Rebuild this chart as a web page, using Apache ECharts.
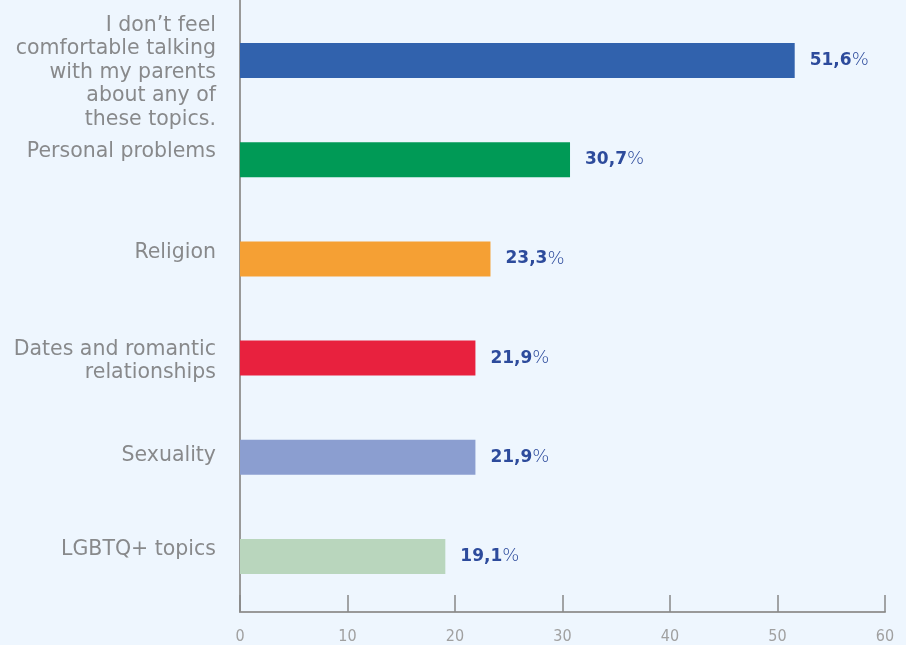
<!DOCTYPE html>
<html>
<head>
<meta charset="utf-8">
<script src="https://cdn.jsdelivr.net/npm/echarts@6/dist/echarts.min.js"></script>
<style>
  html, body { margin: 0; padding: 0; background: #eef6fe; }
  #chart { width: 906px; height: 645px; }
</style>
</head>
<body>
<div id="chart"></div>
<script>
// Topics, top to bottom
const categories = [
  'I don\u2019t feel\ncomfortable talking\nwith my parents\nabout any of\nthese topics.',
  'Personal problems',
  'Religion',
  'Dates and romantic\nrelationships',
  'Sexuality',
  'LGBTQ+ topics'
];
// Share of respondents, %
const values = [51.6, 30.7, 23.3, 21.9, 21.9, 19.1];
const barColors = ['#3162ad', '#009a56', '#f5a034', '#e8213e', '#8b9ed0', '#b9d6bd'];
// Vertical nudges for the category labels (px)
const labelShift = [12, -8, -6, 3, -2, -7];
const xTicks = [0, 10, 20, 30, 40, 50, 60];

const labelFont = '"DejaVu Sans", sans-serif';

const chart = echarts.init(document.getElementById('chart'), null, { renderer: 'canvas' });

chart.setOption({
  backgroundColor: '#eef6fe',
  animation: false,
  grid: [
    // axis frame
    { left: 240, right: 21, top: 0, bottom: 33, outerBoundsMode: 'none' },
    // bar area
    { left: 240, right: 21, top: 11, bottom: 39, outerBoundsMode: 'none' }
  ],
  xAxis: [
    {
      gridIndex: 0, type: 'value', min: xTicks[0], max: xTicks[xTicks.length - 1], interval: 10,
      axisLine: { show: true, lineStyle: { color: '#999', width: 2 } },
      axisTick: { show: true, inside: true, length: 17, lineStyle: { color: '#888', width: 1.5 } },
      axisLabel: {
        color: '#a0a0a0', fontSize: 16,
        fontFamily: '"DejaVu Sans Condensed", "Liberation Sans Narrow", sans-serif',
        fontWeight: 200,
        margin: 17
      },
      splitLine: { show: false }
    },
    { gridIndex: 1, type: 'value', min: 0, max: 60, show: false }
  ],
  yAxis: [
    {
      gridIndex: 0, type: 'value', min: 0, max: 1,
      axisLine: { show: true, lineStyle: { color: '#999', width: 2 } },
      axisTick: { show: false }, axisLabel: { show: false }, splitLine: { show: false }
    },
    {
      gridIndex: 1, type: 'category', inverse: true, data: categories,
      axisLine: { show: false }, axisTick: { show: false }, axisLabel: { show: false }
    }
  ],
  series: [
    {
      type: 'bar',
      xAxisIndex: 1, yAxisIndex: 1,
      barWidth: 35,
      data: values.map((v, i) => ({ value: v, itemStyle: { color: barColors[i] } })),
      label: {
        show: true, position: 'right', distance: 15,
        formatter: p => '{b|' + p.value.toFixed(1).replace('.', ',') + '}{p|%}',
        rich: {
          b: { fontFamily: labelFont, fontWeight: 'bold', fontSize: 17, color: '#2d4b9c' },
          p: { fontFamily: labelFont, fontWeight: 200, fontSize: 18, color: '#2d4b9c' }
        }
      }
    },
    {
      // category names, placed left of the axis
      type: 'scatter',
      xAxisIndex: 1, yAxisIndex: 1,
      symbolSize: 0,
      silent: true,
      data: categories.map((c, i) => ({
        value: [0, i],
        label: { offset: [0, labelShift[i]] }
      })),
      label: {
        show: true, position: 'left', distance: 24,
        formatter: p => categories[p.dataIndex],
        color: '#6e6e6e', fontSize: 20.5, fontFamily: labelFont, fontWeight: 'normal',
        lineHeight: 23.5, align: 'right'
      }
    }
  ]
});
</script>
</body>
</html>
